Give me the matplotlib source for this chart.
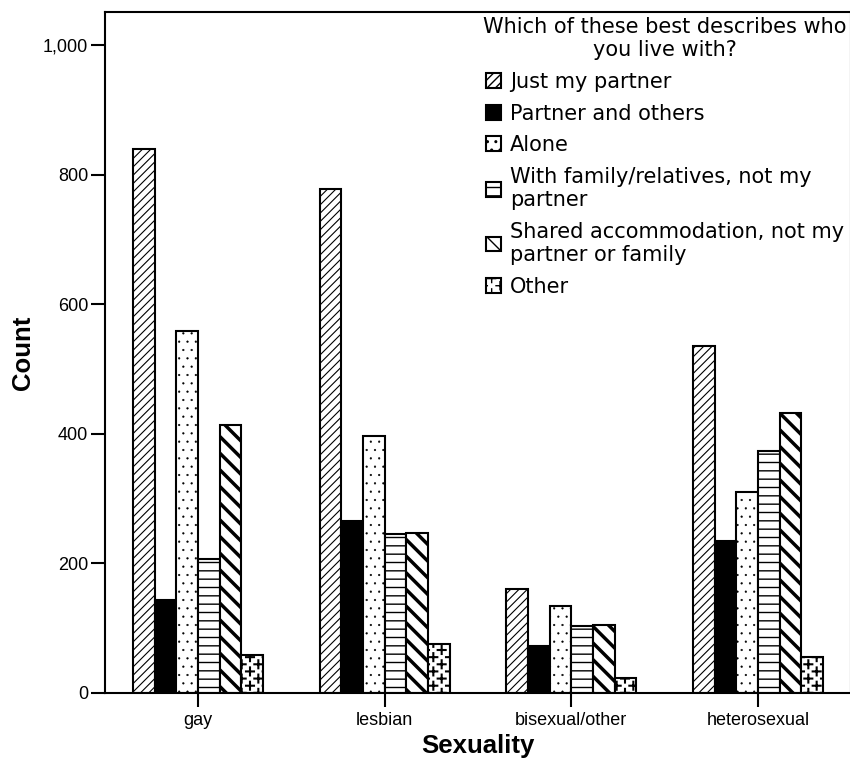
import numpy as np
import matplotlib
matplotlib.use("Agg")
import matplotlib.pyplot as plt
import matplotlib.hatch as mhatch
from matplotlib.path import Path

plt.rcParams['font.family'] = ['Liberation Sans', 'DejaVu Sans']
plt.rcParams['hatch.linewidth'] = 1.0


# sparse staggered plus signs for the "Other" bars (takes over the '*' hatch)
class PlusHatch(mhatch.HatchPatternBase):
    half = 0.04

    def __init__(self, hatch, density):
        n = hatch.count('*')
        self.pos = []
        if n:
            ncols, nrows = 6 * n, 14 * n
            for r in range(nrows + 1):
                if r % 2 == 0:
                    xs = np.linspace(0, 1, ncols + 1)
                else:
                    xs = (np.arange(ncols) + 0.5) / ncols
                for xx in xs:
                    self.pos.append((xx, r / nrows))
        self.num_vertices = 4 * len(self.pos)

    def set_vertices_and_codes(self, vertices, codes):
        h = self.half
        for k, (px, py) in enumerate(self.pos):
            vertices[4 * k:4 * k + 4] = [[px - h, py], [px + h, py], [px, py - h], [px, py + h]]
            codes[4 * k:4 * k + 4] = [Path.MOVETO, Path.LINETO, Path.MOVETO, Path.LINETO]


mhatch._hatch_types[:] = [PlusHatch if c is mhatch.Stars else c for c in mhatch._hatch_types]

groups = ["gay", "lesbian", "bisexual/other", "heterosexual"]
series = ["Just my partner", "Partner and others", "Alone",
          "With family/relatives, not my\npartner",
          "Shared accommodation, not my\npartner or family", "Other"]

just_partner = [839, 778, 161, 536]
partner_others = [144, 266, 73, 234]
alone = [559, 396, 134, 310]
family = [207, 246, 103, 373]
shared = [413, 247, 105, 432]
other = [58, 76, 23, 55]

values = [just_partner, partner_others, alone, family, shared, other]
hatches = ["////", None, "..", "--", "\\\\", "*"]
fills = ["white", "black", "white", "white", "white", "white"]
hatch_lw = [0.8, 1.0, 0.35, 1.0, 2.5, 1.5]

fig = plt.figure(figsize=(8.5, 7.58), dpi=100)
ax = fig.add_axes([0.1235, 0.0858, 0.8776, 0.8982])

x = np.arange(len(groups))
w = 0.116
for i, (vals, h, fc) in enumerate(zip(values, hatches, fills)):
    bars = ax.bar(x + (i - 2.5) * w, vals, w, color=fc, edgecolor="black",
                  linewidth=1.5, hatch=h, label=series[i])
    for b in bars:
        if hasattr(b, "set_hatch_linewidth"):
            b.set_hatch_linewidth(hatch_lw[i])

ax.set_xlim(-0.498, 3.498)
ax.set_ylim(0, 1051)
ax.set_yticks([0, 200, 400, 600, 800, 1000])
ax.set_yticklabels(["0", "200", "400", "600", "800", "1,000"], fontsize=13)
ax.set_xticks(x)
ax.set_xticklabels(groups, fontsize=13)
ax.tick_params(axis="both", length=10, width=1.5, direction="out")
ax.tick_params(axis="y", pad=2)
ax.tick_params(axis="x", pad=4)
for s in ax.spines.values():
    s.set_linewidth(1.5)

ax.set_ylabel("Count", fontsize=18.5, fontweight="bold", labelpad=6)
ax.set_xlabel("Sexuality", fontsize=18.5, fontweight="bold", labelpad=3)

leg = ax.legend(title="Which of these best describes who\nyou live with?",
                loc="upper left", bbox_to_anchor=(483 / 850, 1 - 17 / 758),
                bbox_transform=fig.transFigure, frameon=False,
                prop={"family": "DejaVu Sans", "size": 15},
                title_fontproperties={"family": "DejaVu Sans", "size": 15},
                handlelength=0.72, handleheight=0.72, handletextpad=0.45,
                labelspacing=0.56, borderpad=0, borderaxespad=0)
leg.get_title().set_multialignment("center")
leg.get_title().set_linespacing(1.2)
for t in leg.get_texts():
    t.set_linespacing(1.2)

fig.savefig("out.png", dpi=100)
